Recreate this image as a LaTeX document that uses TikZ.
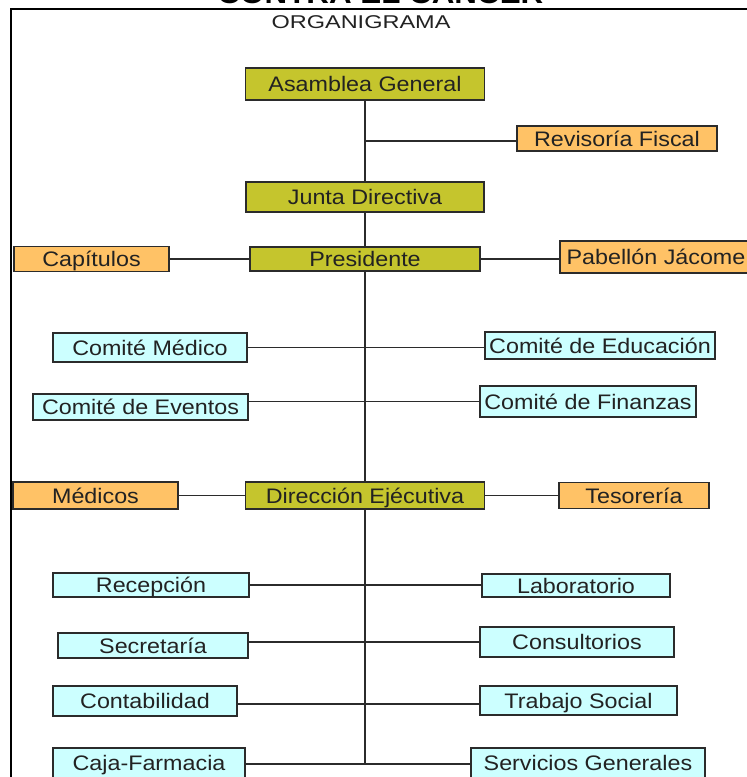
\documentclass[tikz,border=0pt]{standalone}
\usepackage{fontspec}
\setmainfont{Liberation Sans}[FakeStretch=1.11]
\newfontfamily\orgfont{Liberation Sans}[FakeStretch=1.27]
\newfontfamily\ttlfont{Liberation Sans}[FakeStretch=1.12]
\definecolor{olivebox}{RGB}{197,197,45}
\definecolor{orangebox}{RGB}{255,194,102}
\definecolor{cyanbox}{RGB}{204,255,255}
\definecolor{edge}{RGB}{43,43,43}
\definecolor{ink}{RGB}{34,34,34}
\tikzset{
  bx/.style 2 args={minimum width=#1pt,minimum height=#2pt},
  box/.style={draw=edge,line width=1.5pt,inner sep=0pt,text=ink,
    text height=15pt,text depth=0pt,font=\fontsize{21}{25}\selectfont},
  ol/.style={box,fill=olivebox},
  orb/.style={box,fill=orangebox},
  cy/.style={box,fill=cyanbox},
  cut/.style={text depth=12pt},
  conn/.style={draw=edge,line width=1.5pt}
}
\begin{document}
\begin{tikzpicture}[x=1pt,y=-1pt]
\useasboundingbox (0,0) rectangle (747,777);
% frame and titles
\draw[line width=2pt,black] (11,790) -- (11,9) -- (760,9);
\node[anchor=base,inner sep=0pt,font=\ttlfont\bfseries\fontsize{28}{30}\selectfont] (ttl) at (380.5,3) {CONTRA EL CANCER};
\node[anchor=base,inner sep=0pt,text=ink,font=\orgfont\fontsize{18.5}{22}\selectfont] (org) at (361,28.3) {ORGANIGRAMA};
% spine boxes
\node[ol,bx={239}{32}] (AG) at (365,84) {Asamblea General};
\node[ol,bx={238}{30}] (JD) at (365,197) {Junta Directiva};
\node[ol,bx={230}{24}] (PRE) at (365,259) {Presidente};
\node[ol,bx={239}{27}] (DIR) at (365,495.5) {Dirección Ejécutiva};
% orange boxes
\node[orb,bx={200}{25}] (RF) at (617,138.5) {Revisoría Fiscal};
\node[orb,bx={155}{25}] (CAP) at (91.5,259) {Capítulos};
\node[orb,bx={192}{32}] (PAB) at (656,257) {Pabellón Jácome};
\node[orb,bx={165}{27}] (MED) at (95.5,495.5) {Médicos};
\node[orb,bx={150}{26}] (TES) at (634,495.5) {Tesorería};
% cyan boxes
\node[cy,bx={194}{29}] (CM) at (150,347.5) {Comité Médico};
\node[cy,bx={230}{27}] (CE) at (600,345.5) {Comité de Educación};
\node[cy,bx={215}{26}] (CEv) at (140.5,407) {Comité de Eventos};
\node[cy,bx={216}{31}] (CF) at (588,401.5) {Comité de Finanzas};
\node[cy,bx={196}{24}] (REC) at (151,585) {Recepción};
\node[cy,bx={188}{23}] (LAB) at (576,585.5) {Laboratorio};
\node[cy,bx={190}{25}] (SEC) at (153,645.5) {Secretaría};
\node[cy,bx={194}{30}] (CON) at (577,642) {Consultorios};
\node[cy,bx={184}{30}] (CTB) at (145,701) {Contabilidad};
\node[cy,bx={197}{29}] (TS) at (578.5,700.5) {Trabajo Social};
\node[cy,cut,bx={192}{42}] (CAJ) at (149,769) {Caja-Farmacia};
\node[cy,cut,bx={234}{42}] (SG) at (588,769) {Servicios Generales};
% connectors
\coordinate (rf) at (365,141);
\coordinate (bot) at (365,764);
\draw[conn] (AG.south) -- (JD.north);
\draw[conn] (JD.south) -- (PRE.north);
\draw[conn] (PRE.south) -- (DIR.north);
\draw[conn] (DIR.south) -- (bot);
\draw[conn] (rf) -- (rf -| RF.west);
\draw[conn] (CAP.east) -- (PRE.west);
\draw[conn] (PRE.east) -- (PRE.east -| PAB.west);
\draw[conn] (CM.east) -- (CM.east -| CE.west);
\draw[conn] (CF.west -| CEv.east) -- (CF.west);
\draw[conn] (MED.east) -- (DIR.west);
\draw[conn] (DIR.east) -- (DIR.east -| TES.west);
\draw[conn] (REC.east) -- (REC.east -| LAB.west);
\draw[conn] (CON.west -| SEC.east) -- (CON.west);
\draw[conn] ([yshift=-3pt]CTB.east) -- ([yshift=-3pt]CTB.east -| TS.west);
\draw[conn] (CAJ.east |- bot) -- (SG.west |- bot);
\end{tikzpicture}
\end{document}
